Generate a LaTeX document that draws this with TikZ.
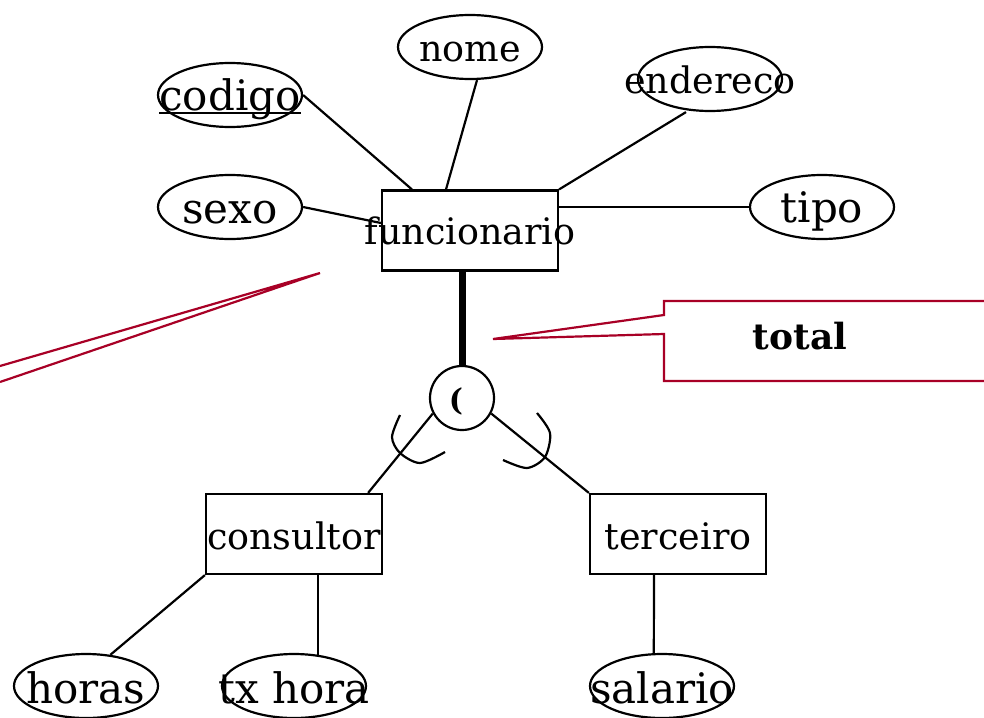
\documentclass[tikz,border=0pt]{standalone}
\usepackage{fontspec}
\setmainfont{DejaVu Serif}
\usetikzlibrary{shapes.geometric}
\definecolor{callred}{RGB}{168,0,38}
\tikzset{
  attr/.style={draw, ellipse, line width=2.2pt, minimum width=144pt, minimum height=64pt, inner sep=0pt},
  ent/.style={draw, rectangle, line width=2.2pt, minimum width=176pt, minimum height=80pt, inner sep=0pt},
  bigtxt/.style={anchor=base, inner sep=0pt, font=\fontsize{42}{46}\selectfont},
  midtxt/.style={anchor=base, inner sep=0pt, font=\fontsize{36.5}{40}\selectfont},
  conn/.style={line width=2.2pt},
  callout/.style={draw=callred, line width=2.2pt, fill=white, line join=miter}
}
\begin{document}
\begin{tikzpicture}[x=1pt,y=-1pt]
\useasboundingbox (0,0) rectangle (984,717);
% entities
\node[ent] (func) at (470,230.5) {};
\node[ent] (cons) at (294,534) {};
\node[ent] (terc) at (678,534) {};
% attributes
\node[attr] (codigo) at (230,95) {};
\node[attr] (nome) at (470,47) {};
\node[attr] (endereco) at (710,79) {};
\node[attr] (sexo) at (230,207) {};
\node[attr] (tipo) at (822,207) {};
\node[attr] (horas) at (86,686) {};
\node[attr] (txhora) at (294,686) {};
\node[attr] (salario) at (662,686) {};
% specialization circle
\node[draw, circle, line width=2.2pt, minimum size=64pt, inner sep=0pt] (spec) at (462,398) {};
% texts
\node[midtxt] (funct) at (470,244) {funcionario};
\node[midtxt] (const) at (294,549) {consultor};
\node[midtxt] (terct) at (678,549) {terceiro};
\node[bigtxt] (codigot) at (230,110) {codigo};
\draw[line width=2pt] ([yshift=-3pt]codigot.base west) -- ([yshift=-3pt]codigot.base east);
\node[midtxt] (nomet) at (470,61) {nome};
\node[midtxt] (enderecot) at (710,93) {endereco};
\node[bigtxt] (sexot) at (230,223) {sexo};
\node[bigtxt] (tipot) at (822,222) {tipo};
\node[bigtxt] (horast) at (86,703) {horas};
\node[bigtxt] (txhorat) at (294,703) {tx hora};
\node[bigtxt] (salariot) at (662,703) {salario};
\node[anchor=base, inner sep=0pt, font=\fontsize{30}{32}\selectfont\bfseries] (spect) at (456,410) {(};
% connectors
\draw[conn] (codigo.east) -- ([xshift=31pt]func.north west);
\draw[conn] ([xshift=7pt]nome.south) -- ([xshift=-24pt]func.north);
\draw[conn] ([xshift=-24pt]endereco.south) -- (func.north east);
\draw[conn] (sexo.east) -- ([yshift=7.5pt]func.west);
\draw[conn] (tipo.west) -- ([yshift=23.5pt]func.east);
\draw[line width=7pt] ([xshift=-8pt]func.south) -- (spec.north);
\draw[conn] (spec.208) -- ([xshift=-15pt]cons.north east);
\draw[conn] (spec.332) -- (terc.north west);
\draw[conn] (cons.south west) -- (horas.52);
\draw[conn] ([xshift=24pt]cons.south) -- ([xshift=24pt]cons.south |- txhora.51.5);
\draw[conn] ([xshift=-24pt]terc.south) -- (salario.104);
% subset arcs
\draw[conn] plot[smooth] coordinates {(400,415) (392,437) (400,453) (420,463) (445,452)};
\draw[conn] plot[smooth] coordinates {(537,413) (550,433) (545,457) (527,468) (503,460)};
% callouts
\draw[callout] (0,366) -- (320,273) -- (0,382);
\draw[callout] (990,301) -- (664,301) -- (664,315) -- (493,339) -- (664,334) -- (664,381) -- (990,381);
\node[anchor=base, inner sep=0pt, font=\fontsize{36}{40}\selectfont\bfseries] (totalt) at (800,349) {total};
\end{tikzpicture}
\end{document}
